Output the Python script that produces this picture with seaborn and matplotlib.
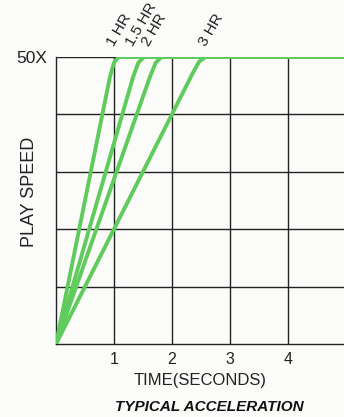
import matplotlib
matplotlib.use("Agg")
import matplotlib.pyplot as plt
import seaborn as sns
import pandas as pd

# curves (time in s, play speed in X)
t_1hr = [0, 0.93, 1.0, 1.08, 1.2, 5.0]
v_1hr = [0, 46.5, 49.0, 50.0, 50.0, 50.0]
t_15hr = [0, 1.33, 1.42, 1.52, 1.65, 5.0]
v_15hr = [0, 46.5, 49.0, 50.0, 50.0, 50.0]
t_2hr = [0, 1.62, 1.72, 1.82, 1.95, 5.0]
v_2hr = [0, 46.5, 49.0, 50.0, 50.0, 50.0]
t_3hr = [0, 2.35, 2.47, 2.58, 2.7, 5.0]
v_3hr = [0, 47.0, 49.2, 50.0, 50.0, 50.0]

series_names = ["1 HR", "1.5 HR", "2 HR", "3 HR"]
label_x = [1.05, 1.38, 1.65, 2.63]
x_ticks = [1, 2, 3, 4]
y_ticks = [0, 10, 20, 30, 40, 50]

rows = []
for name, ts, vs in zip(series_names, [t_1hr, t_15hr, t_2hr, t_3hr],
                        [v_1hr, v_15hr, v_2hr, v_3hr]):
    for t, v in zip(ts, vs):
        rows.append({"time": t, "speed": v, "run": name})
df = pd.DataFrame(rows)

sns.set_style("white")
plt.rcParams['font.family'] = ['Liberation Sans', 'DejaVu Sans']

fig = plt.figure(figsize=(3.44, 4.17), dpi=100, facecolor="#fbfbf9")
ax = fig.add_axes([56 / 344, 1 - 344 / 417, 1 - 56 / 344, 287 / 417])
ax.set_facecolor("#fbfbf9")

# grid
for x in x_ticks:
    ax.axvline(x, color="#222222", lw=1.0, zorder=1)
for y in y_ticks[1:]:
    ax.axhline(y, color="#222222", lw=1.0, zorder=1)

sns.lineplot(data=df, x="time", y="speed", units="run", estimator=None,
             color="#5fcb5c", lw=2.8, ax=ax, zorder=3, sort=False)

for name, lx in zip(series_names, label_x):
    ax.text(lx, 51.5, name, rotation=60, ha="left", va="bottom",
            rotation_mode="anchor", fontsize=11, color="#222222")

ax.set_xlim(0, 4.97)
ax.set_ylim(0, 50)
ax.set_xticks(x_ticks)
ax.set_xticklabels([str(x) for x in x_ticks], fontsize=11.5)
ax.set_yticks([50])
ax.set_yticklabels(["50X"], fontsize=12.5)
ax.tick_params(length=0, pad=6, colors="#222222")
ax.tick_params(axis="x", pad=6)
for side in ["top", "right"]:
    ax.spines[side].set_visible(False)
for side in ["left", "bottom"]:
    ax.spines[side].set_color("#222222")
    ax.spines[side].set_linewidth(1.0)

ax.set_xlabel("TIME(SECONDS)", fontsize=12, color="#222222")
ax.xaxis.set_label_coords((200 - 56) / 288, (344 - 381) / 287)
ax.xaxis.label.set_va("center")
ax.set_ylabel("PLAY SPEED", fontsize=13, color="#222222")
ax.yaxis.set_label_coords((30 - 56) / 288, (344 - 192) / 287)
ax.yaxis.label.set_va("center")
fig.text(209 / 344, 1 - 407 / 417, "TYPICAL ACCELERATION", ha="center", va="center",
         fontsize=11, fontweight="bold", fontstyle="italic", color="#111111")

fig.savefig("out.png", dpi=100, facecolor=fig.get_facecolor())
